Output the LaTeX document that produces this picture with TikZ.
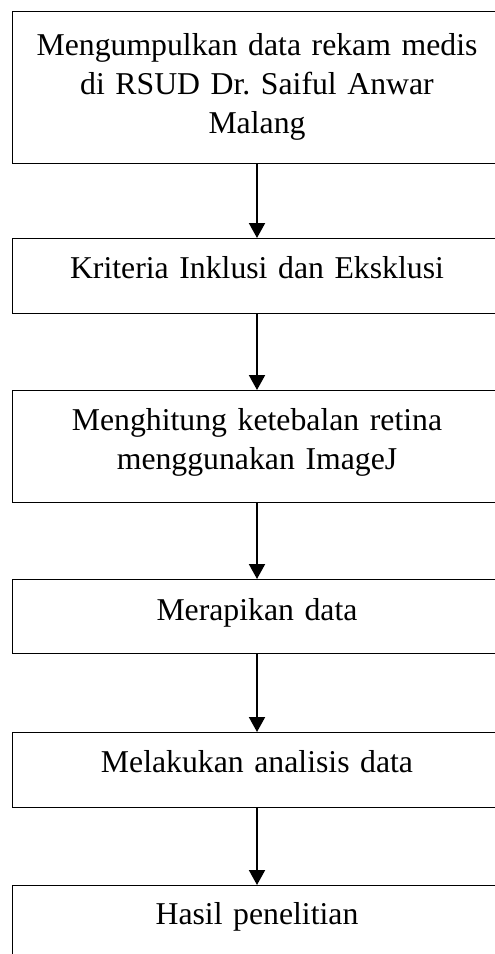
\documentclass[tikz,border=0pt]{standalone}
\usepackage{fontspec}
\setmainfont{Liberation Serif}
\usetikzlibrary{arrows.meta}
\newcommand\midx{257}
\newcommand\textw{460pt}

\begin{document}
\begin{tikzpicture}[
    x=1pt,y=1pt,
    stepbox/.style={draw,line width=1.1pt,text width=\textw,
      inner xsep=14.5pt,inner ysep=0pt,align=center,anchor=north,
      text height=40pt,font=\fontsize{31.75pt}{39pt}\selectfont\frenchspacing},
    arr/.style={-{Triangle[width=16pt,length=15pt]},line width=2pt}
  ]
    \useasboundingbox (0,0) rectangle (495,-954);
    \clip (0,0) rectangle (495,-954);

    \node[stepbox,text height=44pt,text depth=108pt] (collect) at (\midx,-11)
      {Mengumpulkan data rekam medis\\di RSUD Dr. Saiful Anwar\\Malang};
    \node[stepbox,text depth=35pt] (criteria) at (\midx,-238)
      {Kriteria Inklusi dan Eksklusi};
    \node[stepbox,text depth=72pt] (measure) at (\midx,-390)
      {Menghitung ketebalan retina\\menggunakan ImageJ};
    \node[stepbox,text height=41pt,text depth=33pt] (tidy) at (\midx,-579)
      {Merapikan data};
    \node[stepbox,text depth=35pt] (analysis) at (\midx,-732)
      {Melakukan analisis data};
    \node[stepbox,text height=39pt,text depth=36pt] (result) at (\midx,-885)
      {Hasil penelitian};

    \draw[arr] (collect) -- (criteria);
    \draw[arr] (criteria) -- (measure);
    \draw[arr] (measure) -- (tidy);
    \draw[arr] (tidy) -- (analysis);
    \draw[arr] (analysis) -- (result);
  \end{tikzpicture}
\end{document}
